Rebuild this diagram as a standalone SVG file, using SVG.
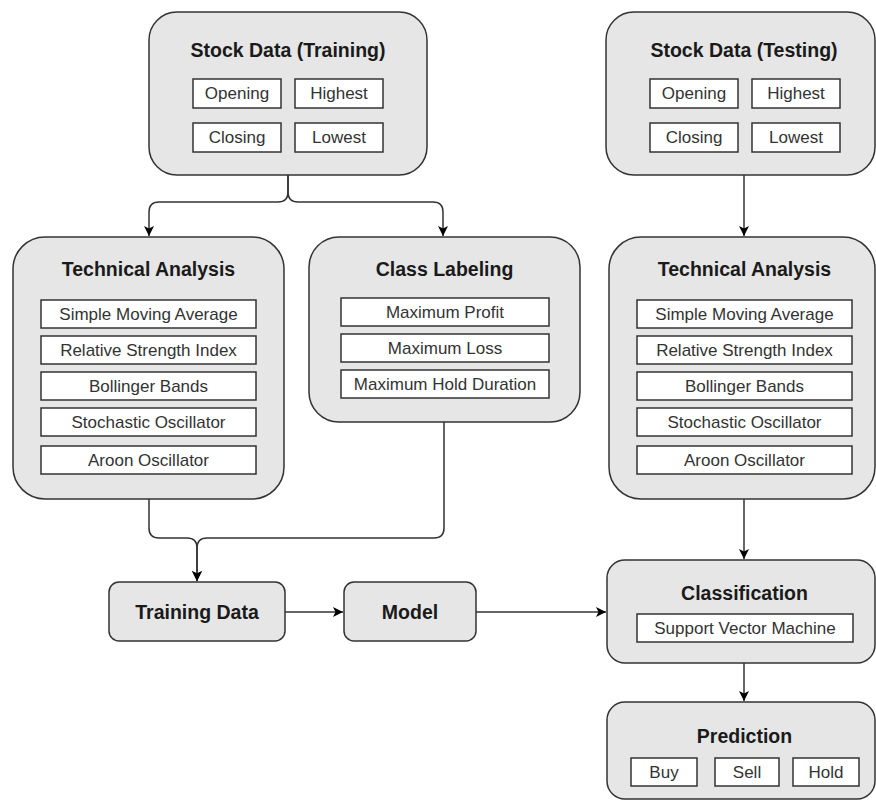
<svg xmlns="http://www.w3.org/2000/svg" width="876" height="802" viewBox="0 0 876 802">
<style>
.n{fill:#e6e6e6;stroke:#333;stroke-width:1.5}
.b{fill:#fff;stroke:#333;stroke-width:1.5}
.t{font-family:"Liberation Sans",Arial,sans-serif;font-weight:bold;font-size:19.5px;fill:#1a1a1a;text-anchor:middle;dominant-baseline:central}
.s{font-family:"Liberation Sans",Arial,sans-serif;font-size:17px;fill:#333;text-anchor:middle;dominant-baseline:central}
.e{fill:none;stroke:#333;stroke-width:1.5}
</style>
<defs>
<marker id="ar" viewBox="0 0 10 10" refX="10" refY="5" markerWidth="10" markerHeight="10" markerUnits="userSpaceOnUse" orient="auto">
<path d="M0,0 L10,5 L0,10 L2.5,5 Z" fill="#000"/>
</marker>
</defs>
<g id="connectors">
<path class="e" d="M288,175 V192 Q288,202 278,202 H159 Q149,202 149,212 V236" marker-end="url(#ar)"/>
<path class="e" d="M288,175 V192 Q288,202 298,202 H433 Q443,202 443,212 V236" marker-end="url(#ar)"/>
<path class="e" d="M149,499 V528 Q149,538 159,538 H187 Q197,538 197,548 V581" marker-end="url(#ar)"/>
<path class="e" d="M444,422 V528 Q444,538 434,538 H207 Q197,538 197,548 V581" marker-end="url(#ar)"/>
<path class="e" d="M285,612 H343" marker-end="url(#ar)"/>
<path class="e" d="M476,612 H606" marker-end="url(#ar)"/>
<path class="e" d="M744,175 V236" marker-end="url(#ar)"/>
<path class="e" d="M744,499 V559" marker-end="url(#ar)"/>
<path class="e" d="M744,663 V701" marker-end="url(#ar)"/>
</g>
<g id="stock-training">
<rect class="n" x="149" y="12" width="278" height="163" rx="28"/>
<text class="t" x="288" y="50">Stock Data (Training)</text>
<rect class="b" x="193" y="79" width="88" height="29"/><text class="s" x="237" y="93.5">Opening</text>
<rect class="b" x="295" y="79" width="88" height="29"/><text class="s" x="339" y="93.5">Highest</text>
<rect class="b" x="193" y="123" width="88" height="29"/><text class="s" x="237" y="137.5">Closing</text>
<rect class="b" x="295" y="123" width="88" height="29"/><text class="s" x="339" y="137.5">Lowest</text>
</g>
<g id="stock-testing">
<rect class="n" x="606" y="12" width="269" height="163" rx="28"/>
<text class="t" x="744" y="50">Stock Data (Testing)</text>
<rect class="b" x="650" y="79" width="88" height="29"/><text class="s" x="694" y="93.5">Opening</text>
<rect class="b" x="752" y="79" width="88" height="29"/><text class="s" x="796" y="93.5">Highest</text>
<rect class="b" x="650" y="123" width="88" height="29"/><text class="s" x="694" y="137.5">Closing</text>
<rect class="b" x="752" y="123" width="88" height="29"/><text class="s" x="796" y="137.5">Lowest</text>
</g>
<g id="ta-training">
<rect class="n" x="13" y="237" width="271" height="262" rx="32"/>
<text class="t" x="148.5" y="269">Technical Analysis</text>
<rect class="b" x="41" y="300" width="215" height="28"/><text class="s" x="148.5" y="314">Simple Moving Average</text>
<rect class="b" x="41" y="336" width="215" height="28"/><text class="s" x="148.5" y="350">Relative Strength Index</text>
<rect class="b" x="41" y="372" width="215" height="28"/><text class="s" x="148.5" y="386">Bollinger Bands</text>
<rect class="b" x="41" y="408" width="215" height="28"/><text class="s" x="148.5" y="422">Stochastic Oscillator</text>
<rect class="b" x="41" y="446" width="215" height="28"/><text class="s" x="148.5" y="460">Aroon Oscillator</text>
</g>
<g id="class-labeling">
<rect class="n" x="309" y="237" width="271" height="185" rx="30"/>
<text class="t" x="444.5" y="269">Class Labeling</text>
<rect class="b" x="341" y="298" width="208" height="28"/><text class="s" x="445" y="312">Maximum Profit</text>
<rect class="b" x="341" y="334" width="208" height="28"/><text class="s" x="445" y="348">Maximum Loss</text>
<rect class="b" x="341" y="370" width="208" height="28"/><text class="s" x="445" y="384">Maximum Hold Duration</text>
</g>
<g id="ta-testing">
<rect class="n" x="609" y="237" width="266" height="262" rx="32"/>
<text class="t" x="744.5" y="269">Technical Analysis</text>
<rect class="b" x="637" y="300" width="215" height="28"/><text class="s" x="744.5" y="314">Simple Moving Average</text>
<rect class="b" x="637" y="336" width="215" height="28"/><text class="s" x="744.5" y="350">Relative Strength Index</text>
<rect class="b" x="637" y="372" width="215" height="28"/><text class="s" x="744.5" y="386">Bollinger Bands</text>
<rect class="b" x="637" y="408" width="215" height="28"/><text class="s" x="744.5" y="422">Stochastic Oscillator</text>
<rect class="b" x="637" y="446" width="215" height="28"/><text class="s" x="744.5" y="460">Aroon Oscillator</text>
</g>
<g id="training-data">
<rect class="n" x="109" y="582" width="176" height="59" rx="10"/>
<text class="t" x="197" y="611.5">Training Data</text>
</g>
<g id="model">
<rect class="n" x="344" y="582" width="132" height="59" rx="10"/>
<text class="t" x="410" y="611.5">Model</text>
</g>
<g id="classification">
<rect class="n" x="607" y="560" width="268" height="103" rx="18"/>
<text class="t" x="744.5" y="593">Classification</text>
<rect class="b" x="637" y="614" width="216" height="28"/><text class="s" x="745" y="628">Support Vector Machine</text>
</g>
<g id="prediction">
<rect class="n" x="607" y="702" width="268" height="97" rx="18"/>
<text class="t" x="744.5" y="736">Prediction</text>
<rect class="b" x="631" y="758" width="66" height="28"/><text class="s" x="664" y="772">Buy</text>
<rect class="b" x="715" y="758" width="64" height="28"/><text class="s" x="747" y="772">Sell</text>
<rect class="b" x="793" y="758" width="66" height="28"/><text class="s" x="826" y="772">Hold</text>
</g>
</svg>
